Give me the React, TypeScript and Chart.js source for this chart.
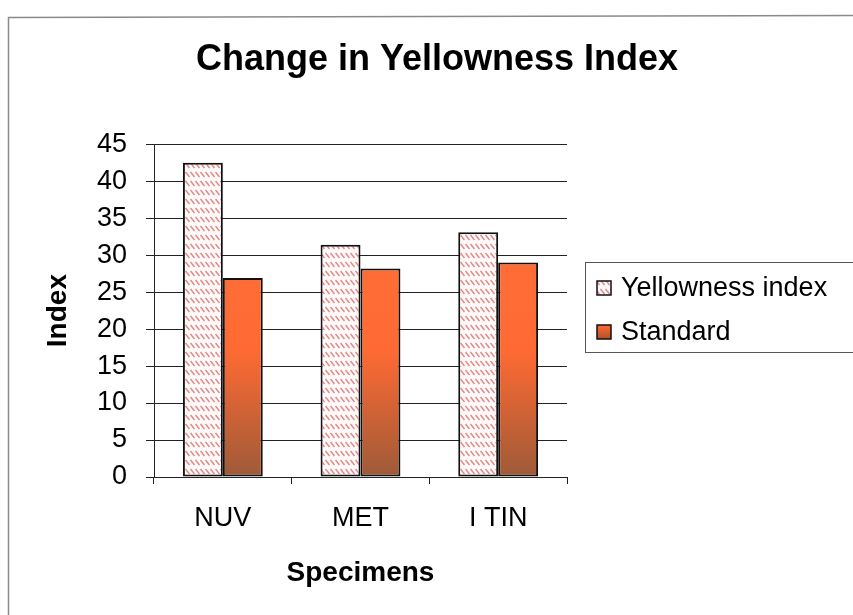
import { useEffect, useRef } from 'react';
import { Chart, registerables } from 'chart.js';

Chart.register(...registerables);

const categories = ['NUV', 'MET', 'I TIN'];
const yellownessValues = [42.5, 31.4, 33.1];
const standardValues = [26.9, 28.2, 29.0];
const seriesLabels = ['Yellowness index', 'Standard'];
const yTicks = [0, 5, 10, 15, 20, 25, 30, 35, 40, 45];
const chartTitle = 'Change in Yellowness Index';
const xTitle = 'Specimens';
const yTitle = 'Index';

const FONT = "'Liberation Sans', Arial, sans-serif";

function makeStripePattern(ctx: CanvasRenderingContext2D): CanvasPattern | string {
  const c = document.createElement('canvas');
  c.width = 5;
  c.height = 9;
  const g = c.getContext('2d');
  if (!g) return '#fbe9e9';
  g.fillStyle = '#fffafa';
  g.fillRect(0, 0, 5, 9);
  g.strokeStyle = 'rgba(222, 120, 120, 0.9)';
  g.lineWidth = 1.4;
  g.beginPath();
  g.moveTo(0.5, 1);
  g.lineTo(4.5, 6);
  g.stroke();
  const p = ctx.createPattern(c, 'repeat');
  return p || '#fbe9e9';
}

export default function App() {
  const canvasRef = useRef<HTMLCanvasElement | null>(null);

  useEffect(() => {
    document.body.style.margin = '0';
    const canvas = canvasRef.current;
    if (!canvas) return;
    const ctx = canvas.getContext('2d');
    if (!ctx) return;
    const stripe = makeStripePattern(ctx);

    const standardFill = (context: any) => {
      const chart = context.chart;
      const area = chart.chartArea;
      if (!area) return '#ff6c35';
      const grad = chart.ctx.createLinearGradient(0, area.top, 0, area.bottom);
      grad.addColorStop(0, '#ff7038');
      grad.addColorStop(0.62, '#ff6a33');
      grad.addColorStop(1, '#9e5a38');
      return grad;
    };

    const framePlugin = {
      id: 'frame',
      afterLayout(chart: any) {
        const tb = chart.titleBlock;
        if (tb) {
          tb.left = 0;
          tb.right = 874;
          tb.width = 874;
        }
      },
      beforeDraw(chart: any) {
        const c = chart.ctx;
        c.save();
        c.fillStyle = '#ffffff';
        c.fillRect(0, 0, chart.width, chart.height);
        c.strokeStyle = '#8a8a8a';
        c.lineWidth = 1.5;
        c.beginPath();
        c.moveTo(8.5, chart.height);
        c.lineTo(8.5, 17.5);
        c.lineTo(chart.width, 15.5);
        c.stroke();
        c.restore();
      },
    };

    const legendPlugin = {
      id: 'boxLegend',
      afterDraw(chart: any) {
        const c = chart.ctx;
        const area = chart.chartArea;
        const x0 = area.right + 18;
        const y0 = 262;
        c.save();
        c.strokeStyle = '#555555';
        c.lineWidth = 1;
        c.strokeRect(x0 + 0.5, y0 + 0.5, chart.width, 90);
        c.font = `27px ${FONT}`;
        c.textBaseline = 'middle';
        c.textAlign = 'left';
        chart.data.datasets.forEach((ds: any, i: number) => {
          const cy = y0 + 26 + i * 44;
          const bx = x0 + 12;
          const by = cy - 7;
          if (i === 0) {
            c.fillStyle = stripe;
          } else {
            const g = c.createLinearGradient(0, by, 0, by + 14);
            g.addColorStop(0, '#ff6a33');
            g.addColorStop(1, '#b0502a');
            c.fillStyle = g;
          }
          c.fillRect(bx, by, 14, 14);
          c.strokeStyle = '#111111';
          c.lineWidth = 1.5;
          c.strokeRect(bx, by, 14, 14);
          c.fillStyle = '#000000';
          c.fillText(ds.label, bx + 24, cy + 1);
        });
        c.restore();
      },
    };

    const chart = new Chart(canvas, {
      type: 'bar',
      data: {
        labels: categories,
        datasets: [
          {
            label: seriesLabels[0],
            data: yellownessValues,
            backgroundColor: stripe as any,
            borderColor: '#111111',
            borderWidth: 2,
            borderSkipped: false,
            categoryPercentage: 0.58,
            barPercentage: 1.0,
          },
          {
            label: seriesLabels[1],
            data: standardValues,
            backgroundColor: standardFill as any,
            borderColor: '#111111',
            borderWidth: 2,
            borderSkipped: false,
            categoryPercentage: 0.58,
            barPercentage: 1.0,
          },
        ],
      },
      options: {
        responsive: false,
        animation: false,
        layout: { padding: { left: 0, right: 286, top: 0, bottom: 0 } },
        plugins: {
          legend: { display: false },
          tooltip: { enabled: false },
          title: {
            display: true,
            text: chartTitle,
            color: '#000000',
            font: { family: FONT, size: 36, weight: 'bold', lineHeight: 1.2 },
            padding: { top: 38, bottom: 63 },
          },
        },
        scales: {
          x: {
            afterFit(scale: any) {
              scale.height = 138;
            },
            grid: {
              offset: true,
              drawOnChartArea: false,
              drawTicks: true,
              tickLength: 7,
              color: '#222222',
            },
            border: { display: true, color: '#222222', width: 1 },
            ticks: {
              color: '#000000',
              padding: 18,
              font: { family: FONT, size: 27 },
            },
            title: {
              display: true,
              text: xTitle,
              color: '#000000',
              font: { family: FONT, size: 28, weight: 'bold', lineHeight: 1.2 },
              padding: { top: 0, bottom: 25 },
            },
          },
          y: {
            min: 0,
            max: 45,
            afterFit(scale: any) {
              scale.width = 154;
            },
            afterBuildTicks(scale: any) {
              scale.ticks = yTicks.map((v) => ({ value: v }));
            },
            grid: {
              color: '#222222',
              lineWidth: 1,
              tickLength: 8,
            },
            border: { display: true, color: '#222222', width: 1 },
            ticks: {
              color: '#000000',
              padding: 19,
              font: { family: FONT, size: 27 },
            },
            title: {
              display: true,
              text: yTitle,
              color: '#000000',
              font: { family: FONT, size: 28, weight: 'bold', lineHeight: 1.2 },
              padding: { top: 41, bottom: 0 },
            },
          },
        },
      },
      plugins: [framePlugin, legendPlugin],
    });

    return () => {
      chart.destroy();
    };
  }, []);

  return <canvas ref={canvasRef} width={853} height={615} style={{ display: 'block' }} />;
}
